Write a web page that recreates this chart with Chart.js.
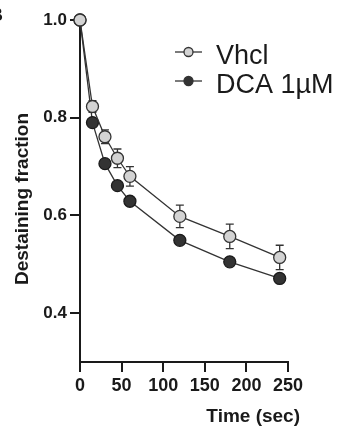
<!DOCTYPE html>
<html>
<head>
<meta charset="utf-8">
<script src="https://cdn.jsdelivr.net/npm/chart.js@4/dist/chart.umd.min.js"></script>
<style>
  body { margin: 0; background: #fff; }
</style>
</head>
<body>
<canvas id="destainChart" width="341" height="430"></canvas>
<script>
// Data
const times = [0, 15, 30, 45, 60, 120, 180, 240];
const vhclValues = [1.0, 0.823, 0.761, 0.717, 0.68, 0.598, 0.557, 0.514];
const vhclErrors = [0, 0.012, 0.014, 0.019, 0.02, 0.023, 0.025, 0.025];
const dcaValues = [1.0, 0.79, 0.706, 0.661, 0.629, 0.549, 0.505, 0.471];
const dcaErrors = [0, 0, 0, 0, 0, 0, 0, 0];
const yTickValues = [0.4, 0.6, 0.8, 1.0];
const seriesLabels = ["Vhcl", "DCA 1µM"];

const INK = "#1a1a1a";

function toPoints(values) {
  return times.map((t, i) => ({ x: t, y: values[i] }));
}

// error bars (drawn under the markers)
const errorBars = {
  id: "errorBars",
  beforeDatasetsDraw(chart) {
    const { ctx, scales } = chart;
    const errs = [vhclErrors, dcaErrors];
    ctx.save();
    ctx.strokeStyle = "#333";
    ctx.lineWidth = 1.3;
    chart.data.datasets.forEach((ds, d) => {
      ds.data.forEach((p, i) => {
        const e = errs[d][i];
        if (!e) return;
        const x = scales.x.getPixelForValue(p.x);
        const yTop = scales.y.getPixelForValue(p.y + e);
        const yBot = scales.y.getPixelForValue(p.y - e);
        ctx.beginPath();
        ctx.moveTo(x, yTop);
        ctx.lineTo(x, yBot);
        ctx.moveTo(x - 4, yTop);
        ctx.lineTo(x + 4, yTop);
        ctx.moveTo(x - 4, yBot);
        ctx.lineTo(x + 4, yBot);
        ctx.stroke();
      });
    });
    ctx.restore();
  },
};

// legend, axis titles and the cut-off panel letter
const decorations = {
  id: "decorations",
  afterDraw(chart) {
    const { ctx, chartArea } = chart;
    ctx.save();
    ctx.fillStyle = INK;

    // legend
    chart.data.datasets.forEach((ds, i) => {
      const cy = 52 + i * 29;
      ctx.strokeStyle = "#333";
      ctx.lineWidth = 1.3;
      ctx.beginPath();
      ctx.moveTo(175, cy);
      ctx.lineTo(202, cy);
      ctx.stroke();
      ctx.beginPath();
      ctx.arc(188.5, cy, 4.5, 0, Math.PI * 2);
      ctx.fillStyle = ds.pointBackgroundColor;
      ctx.fill();
      ctx.stroke();
      ctx.fillStyle = INK;
      ctx.font = "27px 'Liberation Sans', Arial, sans-serif";
      ctx.textAlign = "left";
      ctx.textBaseline = "alphabetic";
      ctx.fillText(ds.label, 216, cy + 12);
    });

    // x title
    ctx.font = "bold 19px 'Liberation Sans', Arial, sans-serif";
    ctx.textAlign = "right";
    ctx.textBaseline = "alphabetic";
    ctx.fillText("Time (sec)", chartArea.right + 12, 422);

    // y title
    ctx.translate(23, 199);
    ctx.rotate(-Math.PI / 2);
    ctx.textAlign = "center";
    ctx.textBaseline = "middle";
    ctx.fillText("Destaining fraction", 0, 0);
    ctx.restore();

    // panel letter, mostly off the left edge
    ctx.save();
    ctx.fillStyle = INK;
    ctx.font = "bold 19px 'Liberation Sans', Arial, sans-serif";
    ctx.textAlign = "right";
    ctx.fillText("B", 3, 21);
    ctx.restore();
  },
};

function createChart(canvasId) {
  const ctx = document.getElementById(canvasId).getContext("2d");
  new Chart(ctx, {
    type: "line",
    data: {
      datasets: [
        {
          label: seriesLabels[0],
          data: toPoints(vhclValues),
          borderColor: "#333",
          borderWidth: 1.3,
          pointRadius: 6,
          pointBorderWidth: 1.3,
          pointBorderColor: "#333",
          pointBackgroundColor: "#d3d3d3",
          clip: false,
        },
        {
          label: seriesLabels[1],
          data: toPoints(dcaValues),
          borderColor: "#333",
          borderWidth: 1.3,
          pointRadius: 6,
          pointBorderWidth: 1.3,
          pointBorderColor: "#1a1a1a",
          pointBackgroundColor: "#333",
          clip: false,
        },
      ],
    },
    options: {
      responsive: false,
      animation: false,
      layout: {
        padding: { left: 0, top: 20, right: 53, bottom: 0 },
      },
      plugins: {
        legend: { display: false },
        tooltip: { enabled: false },
      },
      scales: {
        x: {
          type: "linear",
          min: 0,
          max: 250,
          ticks: {
            stepSize: 50,
            color: INK,
            padding: 3,
            maxRotation: 0,
            font: { family: "'Liberation Sans', Arial, sans-serif", size: 18, weight: "bold" },
          },
          grid: {
            drawOnChartArea: false,
            tickLength: 10,
            color: INK,
            lineWidth: 2,
          },
          border: { color: INK, width: 2 },
          afterFit(scale) {
            scale.height = 68;
          },
        },
        y: {
          min: 0.3,
          max: 1.0,
          afterBuildTicks(scale) {
            scale.ticks = yTickValues.map((v) => ({ value: v }));
          },
          ticks: {
            color: INK,
            padding: 3,
            callback: (v) => v.toFixed(1),
            font: { family: "'Liberation Sans', Arial, sans-serif", size: 17, weight: "bold" },
          },
          grid: {
            drawOnChartArea: false,
            tickLength: 10,
            color: INK,
            lineWidth: 2,
          },
          border: { color: INK, width: 2 },
          afterFit(scale) {
            scale.width = 80;
          },
        },
      },
    },
    plugins: [errorBars, decorations],
  });
}

createChart("destainChart");
</script>
</body>
</html>
